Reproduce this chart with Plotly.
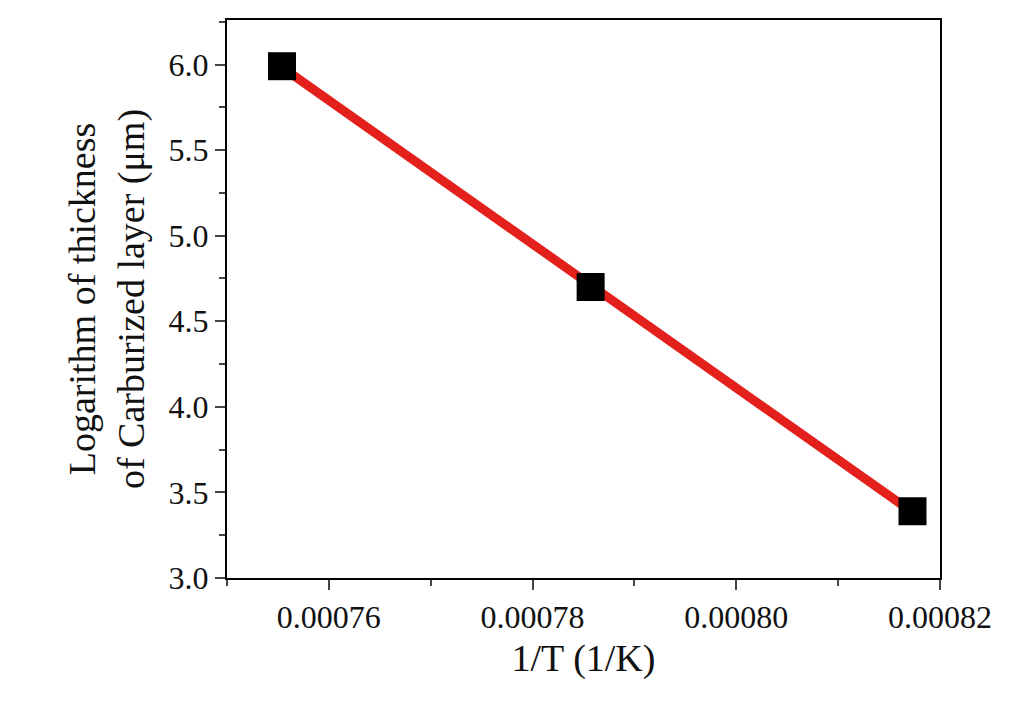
import numpy as np
import plotly.graph_objects as go

inv_T = [0.0007554, 0.0007857, 0.0008173]
log_thick = [5.99, 4.70, 3.39]

k, b = np.polyfit(inv_T, log_thick, 1)
fx = [inv_T[0], inv_T[-1]]
fy = [k * x + b for x in fx]

font = dict(family="Liberation Serif, DejaVu Serif, serif", size=32, color="#111")
fig = go.Figure()
fig.add_trace(go.Scatter(x=fx, y=fy, mode="lines", line=dict(color="#e3201b", width=9), showlegend=False))
fig.add_trace(go.Scatter(x=inv_T, y=log_thick, mode="markers",
                         marker=dict(symbol="square", size=28, color="black"), showlegend=False))
fig.update_layout(
    width=1024, height=707, paper_bgcolor="white", plot_bgcolor="white",
    margin=dict(l=219, r=92, t=10, b=137), font=font,
    xaxis=dict(title=dict(text="1/T (1/K)", standoff=10), range=[0.00075, 0.00082],
               tickvals=[0.00076, 0.00078, 0.00080, 0.00082],
               ticktext=["0.00076", "0.00078", "0.00080", "0.00082"],
               ticks="outside", ticklen=10, tickwidth=2, showgrid=False, zeroline=False,
               showline=True, linecolor="black", linewidth=2, mirror=True,
               minor=dict(tickvals=[0.00075, 0.00077, 0.00079, 0.00081], ticks="outside", ticklen=6, tickwidth=2)),
    yaxis=dict(title=dict(text="Logarithm of thickness<br>of Carburized layer (μm)", standoff=12),
               range=[3.0, 6.26], tickvals=[3.0, 3.5, 4.0, 4.5, 5.0, 5.5, 6.0],
               tickformat=".1f", ticks="outside", ticklen=10, tickwidth=2, showgrid=False, zeroline=False,
               showline=True, linecolor="black", linewidth=2, mirror=True,
               minor=dict(dtick=0.25, ticks="outside", ticklen=6, tickwidth=2)),
)
fig.write_html("out.html")
